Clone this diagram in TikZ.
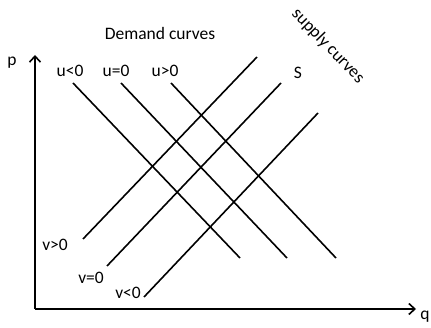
\documentclass[tikz,border=0pt]{standalone}
\usepackage{fontspec}
\setmainfont{Carlito}
\usetikzlibrary{arrows.meta}
\begin{document}
\begin{tikzpicture}[x=1pt,y=-1pt,
  lbl/.style={inner sep=0pt,font=\fontsize{17.5}{20}\selectfont},
  curve/.style={line width=1.6pt},
  axis/.style={line width=1.9pt,-{Straight Barb[length=6pt,width=11pt,line width=1.6pt]}}]
\useasboundingbox (0,0) rectangle (431,328);
% axes
\coordinate (o) at (35,309);
\coordinate (ytop) at (35,55);
\coordinate (xend) at (416,309);
\draw[axis] (o) -- (ytop);
\draw[axis] (o) -- (xend);
\node[lbl] (p) at (12,63) {p};
\node[lbl] (q) at (425,317) {q};
% demand curves
\coordinate (d1a) at (73,83);  \coordinate (d1b) at (240,258);
\coordinate (d2a) at (121,83); \coordinate (d2b) at (287,258);
\coordinate (d3a) at (171,83); \coordinate (d3b) at (336,258);
\draw[curve] (d1a) -- (d1b);
\draw[curve] (d2a) -- (d2b);
\draw[curve] (d3a) -- (d3b);
% supply curves
\coordinate (s1a) at (83,239);  \coordinate (s1b) at (257,57);
\coordinate (s2a) at (107,266); \coordinate (s2b) at (281,83);
\coordinate (s3a) at (144,297); \coordinate (s3b) at (318,113);
\draw[curve] (s1a) -- (s1b);
\draw[curve] (s2a) -- (s2b);
\draw[curve] (s3a) -- (s3b);
% labels
\node[lbl] (dem) at (160,33) {Demand curves};
\node[lbl] (ulo) at (70,71) {u<0};
\node[lbl] (uz) at (116,71) {u=0};
\node[lbl] (uhi) at (165,71) {u>0};
\node[lbl] (S) at (298,73) {S};
\node[lbl,rotate=-46] (sup) at (328,46) {supply curves};
\node[lbl] (vhi) at (55,245) {v>0};
\node[lbl] (vz) at (91,278) {v=0};
\node[lbl] (vlo) at (128,293) {v<0};
\end{tikzpicture}
\end{document}
